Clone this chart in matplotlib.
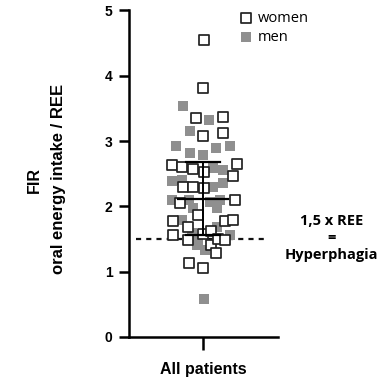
import matplotlib.pyplot as plt
import numpy as np

# FIR values per patient, with horizontal spread of each point in the column
women_fir = [4.55, 3.81, 3.36, 3.37, 3.08, 3.13, 2.64, 2.60, 2.57, 2.52, 2.65, 2.47,
             2.30, 2.30, 2.28, 2.05, 2.10, 1.87, 1.78, 1.69, 1.77, 1.79, 1.56, 1.49,
             1.58, 1.63, 1.41, 1.50, 1.49, 1.28, 1.14, 1.05]
women_dx = [0.01, 0.0, -0.09, 0.28, 0.0, 0.28, -0.42, -0.28, -0.14, 0.02, 0.47, 0.41,
            -0.27, -0.14, 0.01, -0.31, 0.44, -0.06, -0.40, -0.20, 0.30, 0.41, -0.40, -0.20,
            0.0, 0.11, 0.11, 0.21, 0.30, 0.18, -0.19, 0.0]

men_fir = [3.53, 3.32, 3.16, 2.92, 2.82, 2.79, 2.90, 2.92, 2.59, 2.56, 2.39, 2.40,
           2.30, 2.35, 2.10, 2.10, 2.07, 2.10, 1.98, 1.97, 1.79, 1.69, 1.59, 1.47,
           1.41, 1.33, 1.56, 0.58]
men_dx = [-0.27, 0.09, -0.18, -0.37, -0.18, 0.0, 0.18, 0.37, 0.14, 0.28, -0.42, -0.28,
          0.14, 0.28, -0.42, -0.19, 0.10, 0.23, -0.14, 0.19, -0.28, 0.19, -0.15, -0.06,
          -0.08, 0.03, 0.37, 0.01]

fir_mean = 2.12
fir_sd = 0.56
hyperphagia = 1.5

fig = plt.figure(figsize=(3.83, 3.86), dpi=100)
ax = fig.add_axes([0.337, 0.127, 0.389, 0.846])

ax.plot([-0.91, 0.88], [hyperphagia, hyperphagia], color='#111111', lw=1.6,
        dashes=(2.3, 2.3), zorder=1)

ax.scatter(men_dx, men_fir, marker='s', s=46, color='#8f8f8f', linewidths=0,
           zorder=2, label='men')
ax.scatter(women_dx, women_fir, marker='s', s=50, facecolors='white',
           edgecolors='#222222', linewidths=1.25, zorder=3, label='women')

# mean and SD
ax.plot([-0.34, 0.34], [fir_mean, fir_mean], color='black', lw=1.6, zorder=4)
ax.plot([0, 0], [fir_mean - fir_sd, fir_mean + fir_sd], color='black', lw=1.4, zorder=4)
for y in (fir_mean - fir_sd, fir_mean + fir_sd):
    ax.plot([-0.23, 0.23], [y, y], color='black', lw=1.6, zorder=4)

ax.set_xlim(-1, 1.02)
ax.set_ylim(0, 5)
ax.set_yticks(range(6))
ax.set_xticks([0])
ax.set_xticklabels(['All patients'], fontsize=11.5, fontweight='bold',
                   family='Liberation Sans')
for lab in ax.get_yticklabels():
    lab.set_fontweight('bold')
    lab.set_fontsize(10)
    lab.set_family('Liberation Sans')
ax.tick_params(axis='y', length=7, width=1.8, pad=5)
ax.tick_params(axis='x', length=9, width=1.8, pad=9)
for side in ('top', 'right'):
    ax.spines[side].set_visible(False)
for side in ('left', 'bottom'):
    ax.spines[side].set_linewidth(1.8)

fig.text(0.091, 0.534, 'FIR', rotation=90, ha='center', va='center',
         fontsize=11.5, fontweight='bold', family='Liberation Sans')
fig.text(0.152, 0.537, 'oral energy intake / REE', rotation=90, ha='center',
         va='center', fontsize=12, fontweight='bold', family='Liberation Sans')

fig.text(0.866, 0.383, '1,5 x REE\n=\nHyperphagia', ha='center', va='center',
         fontsize=10.5, fontweight='bold', family='Open Sans', linespacing=1.25)

handles, labels = ax.get_legend_handles_labels()
ax.legend(handles[::-1], labels[::-1], loc='upper left', bbox_to_anchor=(0.69, 1.02),
          frameon=False, prop={'family': 'Open Sans', 'size': 10.5},
          handletextpad=0.3, labelspacing=0.25, borderpad=0, handlelength=1.0)

fig.savefig('out.png', dpi=100)
